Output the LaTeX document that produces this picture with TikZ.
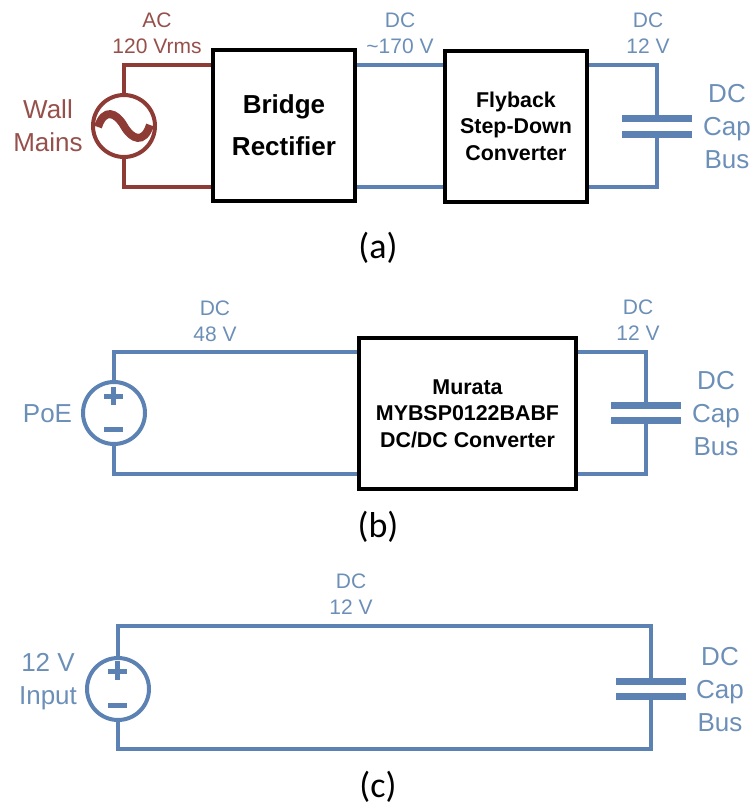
\documentclass[tikz,border=0pt]{standalone}
\usepackage{fontspec}
\setmainfont{Liberation Sans}
\newfontfamily\capfont{Carlito}
\definecolor{wireblue}{HTML}{5B82B2}
\definecolor{wirered}{HTML}{8E3B36}
\definecolor{txtblue}{HTML}{6C8FB8}
\definecolor{txtred}{HTML}{96504B}
\usetikzlibrary{calc}
\tikzset{
 wire/.style={line width=3.6pt,line join=miter,line cap=square},
 bluewire/.style={wire,draw=wireblue},
 redwire/.style={wire,draw=wirered},
 blockbox/.style={draw=black,line width=4pt,fill=white,inner sep=0pt,align=center},
 bigblock/.style={blockbox,font=\bfseries\fontsize{26}{42}\selectfont},
 midblock/.style={blockbox,font=\bfseries\fontsize{21.4}{26.5}\selectfont},
 srcblue/.style={circle,draw=wireblue,line width=4pt,fill=white,minimum size=62pt,inner sep=0pt},
 srcred/.style={circle,draw=wirered,line width=4pt,fill=white,minimum size=62pt,inner sep=0pt},
 plate/.style={draw=wireblue,line width=7pt},
 lblue/.style={text=txtblue,align=center,inner sep=0pt,font=\fontsize{21}{26}\selectfont},
 lbluebig/.style={text=txtblue,align=center,inner sep=0pt,font=\fontsize{26}{33}\selectfont},
 lred/.style={text=txtred,align=center,inner sep=0pt,font=\fontsize{21}{26}\selectfont},
 lredbig/.style={text=txtred,align=center,inner sep=0pt,font=\fontsize{26}{33}\selectfont},
 sublabel/.style={text=black,inner sep=0pt,font=\capfont\fontsize{36}{40}\selectfont},
}
\begin{document}
\begin{tikzpicture}[x=1pt,y=-1pt]
\useasboundingbox (0,0) rectangle (751,806);
% ---------- (a)
\coordinate (a1) at (124,65);
\coordinate (a2) at (124,187);
\coordinate (a3) at (657,65);
\coordinate (a4) at (657,187);
\coordinate (ac1) at (657,118.5);
\coordinate (ac2) at (657,134);
\node[srcred] (as) at (124,126) {};
\node[bigblock,minimum width=142pt,minimum height=151pt] (br) at (284,125.5) {Bridge\\Rectifier};
\node[midblock,minimum width=142pt,minimum height=151pt] (fb) at (516,126) {Flyback\\Step-Down\\Converter};
\draw[redwire] (as.north) -- (a1) -- (a1 -| br.west);
\draw[redwire] (as.south) -- (a2) -- (a2 -| br.west);
\draw[bluewire] (a1 -| br.east) -- (a1 -| fb.west);
\draw[bluewire] (a2 -| br.east) -- (a2 -| fb.west);
\draw[bluewire] (a1 -| fb.east) -- (a3) -- (ac1);
\draw[bluewire] (a2 -| fb.east) -- (a4) -- (ac2);
\draw[plate] ($(ac1)+(-35,0)$) -- ($(ac1)+(35,0)$);
\draw[plate] ($(ac2)+(-35,0)$) -- ($(ac2)+(35,0)$);
\draw[wirered,line width=8pt] (98,127) .. controls (104,108) and (116,112) .. (124,126) .. controls (132,140) and (144,144) .. (150,125);
\node[lred] (t1) at (157,33) {AC\\120 Vrms};
\node[lredbig] (t2) at (48,126) {Wall\\Mains};
\node[lblue] (t3) at (400,33) {DC\\\textasciitilde170 V};
\node[lblue] (t4) at (648,33) {DC\\12 V};
\node[lbluebig] (t5) at (727,126.5) {DC\\Cap\\Bus};
\node[sublabel] (ca) at (378,248) {(a)};
% ---------- (b)
\coordinate (b1) at (114,352);
\coordinate (b2) at (114,474);
\coordinate (b3) at (646,352);
\coordinate (b4) at (646,474);
\coordinate (bc1) at (646,405);
\coordinate (bc2) at (646,420.5);
\node[srcblue] (bs) at (114,413) {};
\node[midblock,minimum width=217pt,minimum height=151pt] (mu) at (467.5,413.5) {Murata\\MYBSP0122BABF\\DC/DC Converter};
\draw[bluewire] (bs.north) -- (b1) -- (b1 -| mu.west);
\draw[bluewire] (bs.south) -- (b2) -- (b2 -| mu.west);
\draw[bluewire] (b1 -| mu.east) -- (b3) -- (bc1);
\draw[bluewire] (b2 -| mu.east) -- (b4) -- (bc2);
\draw[plate] ($(bc1)+(-35,0)$) -- ($(bc1)+(35,0)$);
\draw[plate] ($(bc2)+(-35,0)$) -- ($(bc2)+(35,0)$);
\draw[wireblue,line width=5pt] (104,396) -- (123,396) (113.5,387) -- (113.5,405) (104,429) -- (123,429);
\node[lblue] (t6) at (215,321) {DC\\48 V};
\node[lblue] (t7) at (638,320.5) {DC\\12 V};
\node[lbluebig] (t8) at (47.5,414) {PoE};
\node[lbluebig] (t9) at (716,413.5) {DC\\Cap\\Bus};
\node[sublabel] (cb) at (378,527) {(b)};
% ---------- (c)
\coordinate (c1) at (118,626);
\coordinate (c2) at (118,749);
\coordinate (c3) at (651,626);
\coordinate (c4) at (651,749);
\coordinate (cc1) at (651,681);
\coordinate (cc2) at (651,696.5);
\node[srcblue] (cs) at (118,689) {};
\draw[bluewire] (cs.north) -- (c1) -- (c3) -- (cc1);
\draw[bluewire] (cs.south) -- (c2) -- (c4) -- (cc2);
\draw[plate] ($(cc1)+(-35,0)$) -- ($(cc1)+(35,0)$);
\draw[plate] ($(cc2)+(-35,0)$) -- ($(cc2)+(35,0)$);
\draw[wireblue,line width=5pt] (108,671) -- (127,671) (117.5,661) -- (117.5,680) (108,705) -- (127,705);
\node[lblue] (t10) at (351,594) {DC\\12 V};
\node[lbluebig] (t11) at (48,682) {12 V\\Input};
\node[lbluebig] (t12) at (720,689.5) {DC\\Cap\\Bus};
\node[sublabel] (cc) at (378,787) {(c)};
\end{tikzpicture}
\end{document}
